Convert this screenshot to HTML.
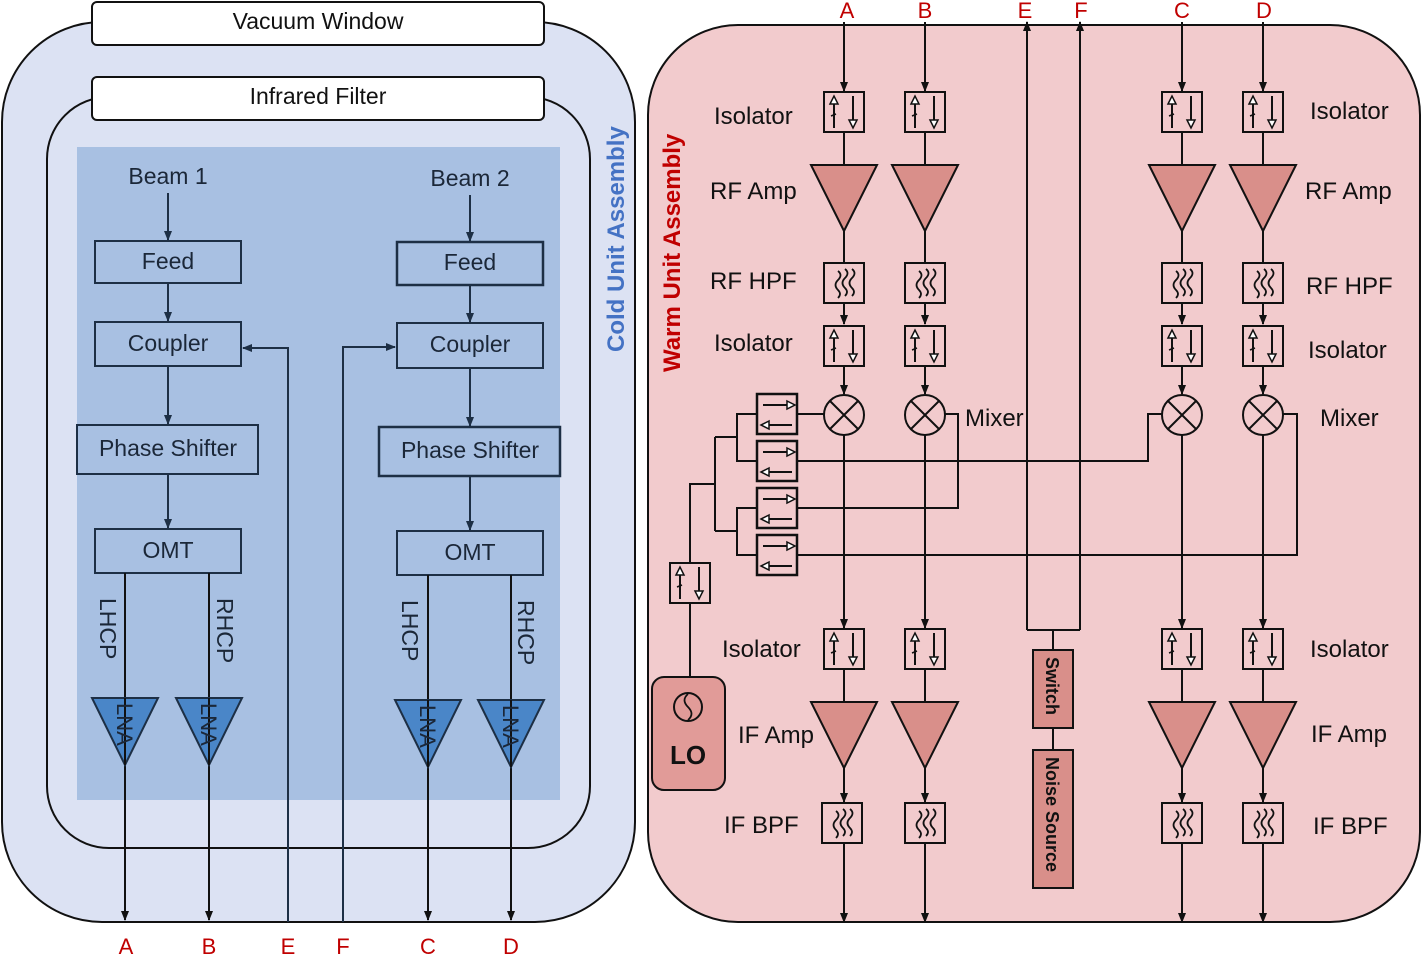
<!DOCTYPE html>
<html><head><meta charset="utf-8"><style>
html,body{margin:0;padding:0;background:#fff;}
svg{display:block;font-family:"Liberation Sans",sans-serif;}
</style></head><body>
<svg width="1423" height="956" viewBox="0 0 1423 956" xmlns="http://www.w3.org/2000/svg">
<defs>
<marker id="ar" markerWidth="10" markerHeight="10" refX="9" refY="5" orient="auto" markerUnits="userSpaceOnUse"><path d="M0,1 L10,5 L0,9 Z" fill="#111"/></marker>
<marker id="arb" markerWidth="10" markerHeight="10" refX="9" refY="5" orient="auto" markerUnits="userSpaceOnUse"><path d="M0,1 L10,5 L0,9 Z" fill="#1d2f45"/></marker>
<g id="iso">
 <rect x="0" y="0" width="40" height="40" fill="#f2cbcd" stroke="#111" stroke-width="2"/>
 <line x1="10" y1="36" x2="10" y2="10" stroke="#111" stroke-width="2"/><path d="M6,12 L10,4 L14,12 Z" fill="#fff" stroke="#111" stroke-width="1.5"/>
 <line x1="7" y1="24" x2="12" y2="22" stroke="#111" stroke-width="1.5"/>
 <line x1="29" y1="4" x2="29" y2="30" stroke="#111" stroke-width="2"/><path d="M25,28 L29,36 L33,28 Z" fill="#fff" stroke="#111" stroke-width="1.5"/>
</g>
<g id="hpf">
 <rect x="0" y="0" width="40" height="40" fill="#f2cbcd" stroke="#111" stroke-width="2"/>
 <path d="M14,8 q5,4 0,9 q-5,5 0,10 q4,4 0,8 M21,6 q5,4 0,9 q-5,5 0,10 q4,4 0,8 M28,6 q5,4 0,9 q-5,5 0,10 q4,4 0,8" fill="none" stroke="#111" stroke-width="1.8"/>
</g>
<g id="amp"><path d="M-33,0 L33,0 L0,66 Z" fill="#d98f8a" stroke="#111" stroke-width="2"/></g>
<g id="mix"><circle cx="0" cy="0" r="20" fill="#f2cbcd" stroke="#111" stroke-width="2"/><path d="M-14,-14 L14,14 M-14,14 L14,-14" stroke="#111" stroke-width="2"/></g>
<g id="cpl">
 <rect x="0" y="0" width="40" height="40" fill="#f2cbcd" stroke="#111" stroke-width="2.5"/>
 <line x1="6" y1="11" x2="30" y2="11" stroke="#111" stroke-width="2"/><path d="M30,7 L38,11 L30,15 Z" fill="#fff" stroke="#111" stroke-width="1.5"/>
 <line x1="12" y1="31" x2="35" y2="31" stroke="#111" stroke-width="2"/><path d="M12,27 L4,31 L12,35 Z" fill="#fff" stroke="#111" stroke-width="1.5"/>
</g>
<g id="lna"><path d="M-33,0 L33,0 L0,67 Z" fill="#4a86c8" stroke="#1d2f45" stroke-width="2"/></g>
</defs>

<!-- LEFT PANEL -->
<rect x="2" y="22" width="633" height="900" rx="100" fill="#dce2f3" stroke="#111" stroke-width="2"/>
<rect x="47" y="97" width="543" height="751" rx="62" fill="#dce2f3" stroke="#111" stroke-width="2"/>
<rect x="77" y="147" width="483" height="653" fill="#a8c0e2"/>
<rect x="92" y="2" width="452" height="43" rx="5" fill="#fff" stroke="#111" stroke-width="2"/>
<text x="318" y="29" font-size="23" text-anchor="middle" fill="#111">Vacuum Window</text>
<rect x="92" y="77" width="452" height="43" rx="5" fill="#fff" stroke="#111" stroke-width="2"/>
<text x="318" y="104" font-size="23" text-anchor="middle" fill="#111">Infrared Filter</text>
<text transform="translate(624,352) rotate(-90)" font-size="24" font-weight="bold" fill="#4472c4">Cold Unit Assembly</text>

<g stroke="#1d2f45" stroke-width="2" fill="none">
 <!-- beam1 -->
 <line x1="168" y1="193" x2="168" y2="240" marker-end="url(#arb)"/>
 <line x1="168" y1="283" x2="168" y2="321" marker-end="url(#arb)"/>
 <line x1="168" y1="366" x2="168" y2="424" marker-end="url(#arb)"/>
 <line x1="168" y1="474" x2="168" y2="528" marker-end="url(#arb)"/>
 <rect x="95" y="241" width="146" height="42" fill="#a8c0e2"/>
 <rect x="95" y="322" width="146" height="44" fill="#a8c0e2"/>
 <rect x="77" y="425" width="181" height="49" fill="#a8c0e2"/>
 <rect x="95" y="529" width="146" height="44" fill="#a8c0e2"/>
 <line x1="125" y1="573" x2="125" y2="920" stroke="#111" marker-end="url(#ar)"/>
 <line x1="209" y1="573" x2="209" y2="920" stroke="#111" marker-end="url(#ar)"/>
 <!-- beam2 -->
 <line x1="470" y1="195" x2="470" y2="241" marker-end="url(#arb)"/>
 <line x1="470" y1="285" x2="470" y2="322" marker-end="url(#arb)"/>
 <line x1="470" y1="368" x2="470" y2="426" marker-end="url(#arb)"/>
 <line x1="470" y1="476" x2="470" y2="530" marker-end="url(#arb)"/>
 <rect x="397" y="242" width="146" height="43" fill="#a8c0e2" stroke-width="2.5"/>
 <rect x="397" y="323" width="146" height="45" fill="#a8c0e2"/>
 <rect x="379" y="427" width="181" height="49" fill="#a8c0e2" stroke-width="2.5"/>
 <rect x="397" y="531" width="146" height="44" fill="#a8c0e2"/>
 <line x1="428" y1="575" x2="428" y2="920" stroke="#111" marker-end="url(#ar)"/>
 <line x1="511" y1="575" x2="511" y2="920" stroke="#111" marker-end="url(#ar)"/>
 <!-- E, F -->
 <polyline points="288,922 288,348 243,348" marker-end="url(#arb)"/>
 <polyline points="343,922 343,347 395,347" marker-end="url(#arb)"/>
</g>
<use href="#lna" x="125" y="698"/><use href="#lna" x="209" y="698"/>
<use href="#lna" x="428" y="700"/><use href="#lna" x="511" y="700"/>
<g stroke="#111" stroke-width="2"><line x1="125" y1="698" x2="125" y2="765"/><line x1="209" y1="698" x2="209" y2="765"/><line x1="428" y1="700" x2="428" y2="767"/><line x1="511" y1="700" x2="511" y2="767"/></g>
<g font-size="23" fill="#1b2738" text-anchor="middle">
 <text x="168" y="184">Beam 1</text><text x="470" y="186">Beam 2</text>
 <text x="168" y="269">Feed</text><text x="470" y="270">Feed</text>
 <text x="168" y="351">Coupler</text><text x="470" y="352">Coupler</text>
 <text x="168" y="456">Phase Shifter</text><text x="470" y="458">Phase Shifter</text>
 <text x="168" y="558">OMT</text><text x="470" y="560">OMT</text>
</g>
<g font-size="23" fill="#1b2738">
 <text transform="translate(100,598) rotate(90)">LHCP</text>
 <text transform="translate(217,598) rotate(90)">RHCP</text>
 <text transform="translate(402,600) rotate(90)">LHCP</text>
 <text transform="translate(518,600) rotate(90)">RHCP</text>
 <text transform="translate(117,703) rotate(90)" font-size="22">LNA</text>
 <text transform="translate(201,703) rotate(90)" font-size="22">LNA</text>
 <text transform="translate(420,705) rotate(90)" font-size="22">LNA</text>
 <text transform="translate(503,705) rotate(90)" font-size="22">LNA</text>
</g>
<g font-size="22" fill="#c00000" text-anchor="middle">
 <text x="126" y="954">A</text><text x="209" y="954">B</text><text x="288" y="954">E</text><text x="343" y="954">F</text><text x="428" y="954">C</text><text x="511" y="954">D</text>
</g>

<!-- RIGHT PANEL -->
<rect x="648" y="25" width="772" height="897" rx="90" fill="#f2cbcd" stroke="#111" stroke-width="2"/>
<text transform="translate(680,372) rotate(-90)" font-size="24" font-weight="bold" fill="#c00000">Warm Unit Assembly</text>
<g font-size="22" fill="#c00000" text-anchor="middle">
 <text x="847" y="18">A</text><text x="925" y="18">B</text><text x="1025" y="18">E</text><text x="1081" y="18">F</text><text x="1182" y="18">C</text><text x="1264" y="18">D</text>
</g>
<g stroke="#111" stroke-width="2" fill="none">
 <line x1="844" y1="22" x2="844" y2="91" marker-end="url(#ar)"/>
 <line x1="925" y1="22" x2="925" y2="91" marker-end="url(#ar)"/>
 <line x1="1182" y1="22" x2="1182" y2="91" marker-end="url(#ar)"/>
 <line x1="1263" y1="22" x2="1263" y2="91" marker-end="url(#ar)"/>
 <!-- column verticals -->
 <line x1="844" y1="132" x2="844" y2="165"/><line x1="844" y1="230" x2="844" y2="262"/>
 <line x1="844" y1="303" x2="844" y2="324" marker-end="url(#ar)"/><line x1="844" y1="366" x2="844" y2="394" marker-end="url(#ar)"/>
 <line x1="844" y1="435" x2="844" y2="628" marker-end="url(#ar)"/>
 <line x1="844" y1="669" x2="844" y2="702"/><line x1="844" y1="767" x2="844" y2="802" marker-end="url(#ar)"/>
 <line x1="844" y1="843" x2="844" y2="922" marker-end="url(#ar)"/>
 <line x1="925" y1="132" x2="925" y2="165"/><line x1="925" y1="230" x2="925" y2="262"/>
 <line x1="925" y1="303" x2="925" y2="324" marker-end="url(#ar)"/><line x1="925" y1="366" x2="925" y2="394" marker-end="url(#ar)"/>
 <line x1="925" y1="435" x2="925" y2="628" marker-end="url(#ar)"/>
 <line x1="925" y1="669" x2="925" y2="702"/><line x1="925" y1="767" x2="925" y2="802" marker-end="url(#ar)"/>
 <line x1="925" y1="843" x2="925" y2="922" marker-end="url(#ar)"/>
 <line x1="1182" y1="132" x2="1182" y2="165"/><line x1="1182" y1="230" x2="1182" y2="262"/>
 <line x1="1182" y1="303" x2="1182" y2="324" marker-end="url(#ar)"/><line x1="1182" y1="366" x2="1182" y2="394" marker-end="url(#ar)"/>
 <line x1="1182" y1="435" x2="1182" y2="628" marker-end="url(#ar)"/>
 <line x1="1182" y1="669" x2="1182" y2="702"/><line x1="1182" y1="767" x2="1182" y2="802" marker-end="url(#ar)"/>
 <line x1="1182" y1="843" x2="1182" y2="922" marker-end="url(#ar)"/>
 <line x1="1263" y1="132" x2="1263" y2="165"/><line x1="1263" y1="230" x2="1263" y2="262"/>
 <line x1="1263" y1="303" x2="1263" y2="324" marker-end="url(#ar)"/><line x1="1263" y1="366" x2="1263" y2="394" marker-end="url(#ar)"/>
 <line x1="1263" y1="435" x2="1263" y2="628" marker-end="url(#ar)"/>
 <line x1="1263" y1="669" x2="1263" y2="702"/><line x1="1263" y1="767" x2="1263" y2="802" marker-end="url(#ar)"/>
 <line x1="1263" y1="843" x2="1263" y2="922" marker-end="url(#ar)"/>
 <!-- E/F -->
 <line x1="1027" y1="630" x2="1027" y2="22" marker-end="url(#ar)"/>
 <line x1="1080" y1="630" x2="1080" y2="22" marker-end="url(#ar)"/>
 <polyline points="1027,630 1080,630"/>
 <line x1="1053" y1="630" x2="1053" y2="650"/>
 <line x1="1053" y1="728" x2="1053" y2="750"/>
 <!-- LO distribution -->
 <line x1="797" y1="414" x2="824" y2="414"/>
 <polyline points="797,461 1148,461 1148,414 1162,414"/>
 <polyline points="797,508 958,508 958,414 945,414"/>
 <polyline points="797,555 1297,555 1297,414 1283,414"/>
 <polyline points="757,414 737,414 737,461 757,461"/>
 <polyline points="757,508 737,508 737,555 757,555"/>
 <line x1="737" y1="437" x2="715" y2="437"/><line x1="737" y1="531" x2="715" y2="531"/>
 <line x1="715" y1="437" x2="715" y2="531"/>
 <polyline points="715,484 690,484 690,563"/>
 <line x1="690" y1="603" x2="690" y2="677"/>
</g>
<g>
 <use href="#iso" x="824" y="92"/><use href="#iso" x="905" y="92"/><use href="#iso" x="1162" y="92"/><use href="#iso" x="1243" y="92"/>
 <use href="#amp" x="844" y="165"/><use href="#amp" x="925" y="165"/><use href="#amp" x="1182" y="165"/><use href="#amp" x="1263" y="165"/>
 <use href="#hpf" x="824" y="263"/><use href="#hpf" x="905" y="263"/><use href="#hpf" x="1162" y="263"/><use href="#hpf" x="1243" y="263"/>
 <use href="#iso" x="824" y="326"/><use href="#iso" x="905" y="326"/><use href="#iso" x="1162" y="326"/><use href="#iso" x="1243" y="326"/>
 <use href="#mix" x="844" y="415"/><use href="#mix" x="925" y="415"/><use href="#mix" x="1182" y="415"/><use href="#mix" x="1263" y="415"/>
 <use href="#iso" x="824" y="629"/><use href="#iso" x="905" y="629"/><use href="#iso" x="1162" y="629"/><use href="#iso" x="1243" y="629"/>
 <use href="#amp" x="844" y="702"/><use href="#amp" x="925" y="702"/><use href="#amp" x="1182" y="702"/><use href="#amp" x="1263" y="702"/>
 <use href="#hpf" x="822" y="803"/><use href="#hpf" x="905" y="803"/><use href="#hpf" x="1162" y="803"/><use href="#hpf" x="1243" y="803"/>
 <use href="#cpl" x="757" y="394"/><use href="#cpl" x="757" y="441"/><use href="#cpl" x="757" y="488"/><use href="#cpl" x="757" y="535"/>
 <use href="#iso" x="670" y="563"/>
</g>
<rect x="652" y="677" width="73" height="113" rx="12" fill="#e19b98" stroke="#111" stroke-width="2"/>
<circle cx="688" cy="707" r="14" fill="none" stroke="#111" stroke-width="2"/>
<path d="M688,694 q-7,6 0,13 q7,7 0,13" fill="none" stroke="#111" stroke-width="1.8"/>
<text x="688" y="764" font-size="26" font-weight="bold" text-anchor="middle" fill="#111">LO</text>
<rect x="1033" y="650" width="40" height="78" fill="#d98f8a" stroke="#111" stroke-width="2"/>
<rect x="1033" y="750" width="40" height="138" fill="#d98f8a" stroke="#111" stroke-width="2"/>
<text transform="translate(1046,657) rotate(90)" font-size="18" font-weight="bold" fill="#111">Switch</text>
<text transform="translate(1046,757) rotate(90)" font-size="18" font-weight="bold" fill="#111">Noise Source</text>
<g font-size="24" fill="#111">
 <text x="714" y="124">Isolator</text><text x="710" y="199">RF Amp</text><text x="710" y="289">RF HPF</text><text x="714" y="351">Isolator</text>
 <text x="965" y="426">Mixer</text>
 <text x="1310" y="119">Isolator</text><text x="1305" y="199">RF Amp</text><text x="1306" y="294">RF HPF</text><text x="1308" y="358">Isolator</text>
 <text x="1320" y="426">Mixer</text>
 <text x="722" y="657">Isolator</text><text x="738" y="743">IF Amp</text><text x="724" y="833">IF BPF</text>
 <text x="1310" y="657">Isolator</text><text x="1311" y="742">IF Amp</text><text x="1313" y="834">IF BPF</text>
</g>
</svg>
</body></html>
